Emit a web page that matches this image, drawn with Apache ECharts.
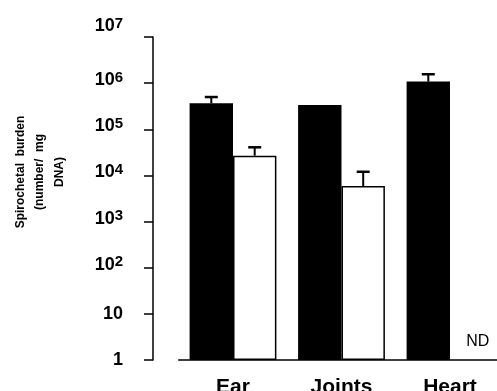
<!DOCTYPE html>
<html>
<head>
<meta charset="utf-8">
<script src="https://cdn.jsdelivr.net/npm/echarts@6/dist/echarts.min.js"></script>
<style>
html,body{margin:0;padding:0;background:#fff;}
#chart{width:497px;height:391px;}
</style>
</head>
<body>
<div id="chart"></div>
<script>
// ---- data ----
var categories = ['Ear', 'Joints', 'Heart'];
var blackValues = [366000, 336000, 1080000];
var blackErrTop = [500000, null, 1560000];
var whiteValues = [26800, 5900, null];
var whiteErrTop = [40700, 12000, null];
var notDetected = ['Heart'];
var yTickExponents = [0, 1, 2, 3, 4, 5, 6, 7];

var FONT = 'Liberation Sans, Arial, Helvetica, sans-serif';

function errData(values, errs) {
  var out = [];
  for (var i = 0; i < values.length; i++) {
    if (values[i] != null && errs[i] != null) out.push([i, values[i], errs[i]]);
  }
  return out;
}

function makeErrRender(side) {
  return function (params, api) {
    var idx = api.value(0);
    var c0 = api.coord([0, 10])[0], c1 = api.coord([1, 10])[0];
    var band = c1 - c0;
    var barW = band * 0.8 / 2;
    var center = api.coord([idx, api.value(1)]);
    var x = center[0] + side * barW / 2;
    var yTop = center[1];
    var yErr = api.coord([idx, api.value(2)])[1];
    var half = 6.5;
    return {
      type: 'group',
      children: [
        { type: 'line', shape: { x1: x, y1: yTop, x2: x, y2: yErr }, style: { stroke: '#000', lineWidth: 2 } },
        { type: 'line', shape: { x1: x - half, y1: yErr, x2: x + half, y2: yErr }, style: { stroke: '#000', lineWidth: 2.5 } }
      ]
    };
  };
}

var ndData = notDetected.map(function (c) { return [categories.indexOf(c), 1]; });

var chart = echarts.init(document.getElementById('chart'), null, { renderer: 'canvas' });
chart.setOption({
  backgroundColor: '#fff',
  animation: false,
  grid: { left: 178.75, top: 37, width: 325.5, bottom: 31, containLabel: false, outerBoundsMode: 'none' },
  xAxis: {
    type: 'category',
    data: categories,
    boundaryGap: true,
    axisLine: { lineStyle: { color: '#000', width: 1.5 } },
    axisTick: { alignWithLabel: true, length: 7, lineStyle: { color: '#000', width: 1.5 } },
    axisLabel: { color: '#000', fontFamily: FONT, fontWeight: 'bold', fontSize: 21, margin: 17 },
    splitLine: { show: false }
  },
  yAxis: {
    type: 'log',
    logBase: 10,
    min: 1,
    max: 10000000,
    offset: 25.75,
    name: 'Spirochetal  burden\n(number/  mg\nDNA)',
    nameLocation: 'middle',
    nameRotate: 90,
    nameGap: 84,
    nameTextStyle: { color: '#000', fontFamily: FONT, fontWeight: 'bold', fontSize: 12, lineHeight: 19.5, align: 'center', padding: [0, 0, 0, 53] },
    axisLine: { show: true, lineStyle: { color: '#000', width: 1.5 } },
    axisTick: { show: true, inside: false, length: 9, lineStyle: { color: '#000', width: 1.5 } },
    splitLine: { show: false },
    minorTick: { show: false },
    axisLabel: {
      margin: 30,
      color: '#000',
      fontFamily: FONT,
      formatter: function (v) {
        var e = Math.round(Math.log(v) / Math.LN10);
        if (yTickExponents.indexOf(e) < 0) return '';
        if (e === 0) return '{b|1}';
        if (e === 1) return '{b|10}';
        if (e === 7) return '{t|10}{u|' + e + '}';
        return '{r|10}{s|' + e + '}';
      },
      rich: {
        b: { fontFamily: FONT, fontWeight: 'bold', fontSize: 18, color: '#000', lineHeight: 22 },
        r: { fontFamily: FONT, fontWeight: 'bold', fontSize: 18, color: '#000', lineHeight: 22, padding: [0, 0, 6, 0] },
        s: { fontFamily: FONT, fontWeight: 'bold', fontSize: 15, color: '#000', padding: [0, 0, 11, 0] },
        t: { fontFamily: FONT, fontWeight: 'bold', fontSize: 18, color: '#000', lineHeight: 22, padding: [0, 0, 22, 0] },
        u: { fontFamily: FONT, fontWeight: 'bold', fontSize: 15, color: '#000', padding: [0, 0, 27, 0] }
      }
    }
  },
  series: [
    {
      type: 'bar', name: 'black', data: blackValues,
      barGap: '0%', barCategoryGap: '20%',
      itemStyle: { color: '#000', borderColor: '#000', borderWidth: 0 }
    },
    {
      type: 'bar', name: 'white', data: whiteValues.map(function (v) { return v == null ? '-' : v; }),
      barGap: '0%', barCategoryGap: '20%',
      itemStyle: { color: '#fff', borderColor: '#000', borderWidth: 1.5 }
    },
    {
      type: 'custom', name: 'errBlack', data: errData(blackValues, blackErrTop),
      renderItem: makeErrRender(-1), z: 5,
      encode: { x: 0, y: [1, 2] }
    },
    {
      type: 'custom', name: 'errWhite', data: errData(whiteValues, whiteErrTop),
      renderItem: makeErrRender(1), z: 5,
      encode: { x: 0, y: [1, 2] }
    },
    {
      type: 'custom', name: 'nd', data: ndData, z: 6,
      encode: { x: 0, y: 1 },
      renderItem: function (params, api) {
        var idx = api.value(0);
        var c0 = api.coord([0, 10])[0], c1 = api.coord([1, 10])[0];
        var barW = (c1 - c0) * 0.8 / 2;
        var p = api.coord([idx, api.value(1)]);
        return {
          type: 'text',
          style: {
            x: p[0] + barW / 2 + 6, y: p[1] - 18,
            text: 'ND', fill: '#000',
            font: '16px ' + FONT,
            textAlign: 'center', textVerticalAlign: 'middle'
          }
        };
      }
    }
  ]
});
</script>
</body>
</html>
